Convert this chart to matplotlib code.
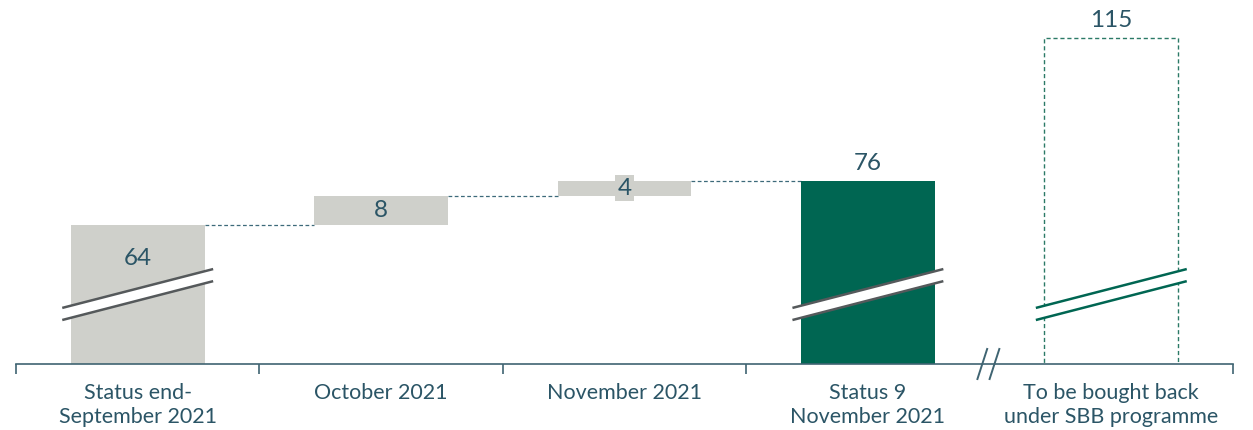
import numpy as np
import matplotlib.pyplot as plt
from matplotlib.patches import Polygon

# data
categories = ["Status end-\nSeptember 2021", "October 2021", "November 2021",
              "Status 9\nNovember 2021", "To be bought back\nunder SBB programme"]
values = [64, 8, 4, 76, 115]
kinds = ["total", "delta", "delta", "total", "target"]

grey = "#cfd0cb"
green = "#006652"
txt = "#2b5566"
axcol = "#3f6472"
brk = "#55595b"

plt.rcParams['font.family'] = ['Lato', 'DejaVu Sans']

fig = plt.figure(figsize=(12.53, 4.30), dpi=100)
ax = fig.add_axes([16 / 1253, 66 / 430, 1217 / 1253, 364 / 430])
ax.set_xlim(-0.5, 4.5)
ax.set_ylim(26.1, 125.4)

w = 0.55
x = np.arange(len(values))
tops = []
running = 0
for i, (v, k) in enumerate(zip(values, kinds)):
    if k == "total":
        ax.bar(i, v, width=w, color=grey if i == 0 else green, zorder=2)
        running = v
        tops.append(v)
    elif k == "delta":
        ax.bar(i, v, bottom=running, width=w, color=grey, zorder=2)
        running += v
        tops.append(running)
    else:
        ax.bar(i, v, width=w, facecolor="none", edgecolor="#2b7a66",
               linestyle=(0, (3, 2)), linewidth=1, zorder=2)
        tops.append(v)

# connectors
for i in range(3):
    ax.plot([i + w / 2, i + 1 - w / 2], [tops[i], tops[i]], color="#3d6a7a",
            linestyle=(0, (3, 2)), linewidth=0.9, zorder=1)

# value labels
lab = dict(fontsize=17.5, color=txt, zorder=4, ha="center")
ax.text(0, 55, str(values[0]), va="center", **lab)
ax.text(1, 68, str(values[1]), va="center", **lab)
ax.text(2, 74, str(values[2]), va="center", **lab,
        bbox=dict(boxstyle="square,pad=0.1", facecolor=grey, edgecolor="none"))
ax.text(3, 78, str(values[3]), va="bottom", **lab)
ax.text(4, 117, str(values[4]), va="bottom", **lab)

# break marks on bars
def bar_break(xc, col):
    x0, x1 = xc - 0.31, xc + 0.31
    ax.add_patch(Polygon([[x0, 41.4], [x1, 52.0], [x1, 48.7], [x0, 38.1]],
                         closed=True, facecolor="white", edgecolor="none", zorder=3))
    ax.plot([x0, x1], [41.4, 52.0], color=col, linewidth=1.8, zorder=3,
            solid_capstyle="butt")
    ax.plot([x0, x1], [38.1, 48.7], color=col, linewidth=1.8, zorder=3,
            solid_capstyle="butt")

bar_break(0, brk)
bar_break(3, brk)
bar_break(4, green)

# axis
for s in ["top", "right", "left"]:
    ax.spines[s].set_visible(False)
ax.spines["bottom"].set_color(axcol)
ax.spines["bottom"].set_linewidth(1.2)
ax.set_yticks([])
ax.set_xticks(x)
ax.set_xticklabels(categories, fontsize=15.5, color=txt, linespacing=1.2)
ax.tick_params(axis="x", which="major", length=0, pad=14)
ax.set_xticks([-0.5, 0.5, 1.5, 2.5, 4.5], minor=True)
ax.tick_params(axis="x", which="minor", length=7, width=1.2, color=axcol, direction="out")

# axis break //
for dx in [-0.03, 0.02]:
    ax.plot([3.5 + dx - 0.02, 3.5 + dx + 0.02], [22.0, 30.2], color=axcol,
            linewidth=1.4, clip_on=False, zorder=5)

fig.savefig("out.png", dpi=100)
